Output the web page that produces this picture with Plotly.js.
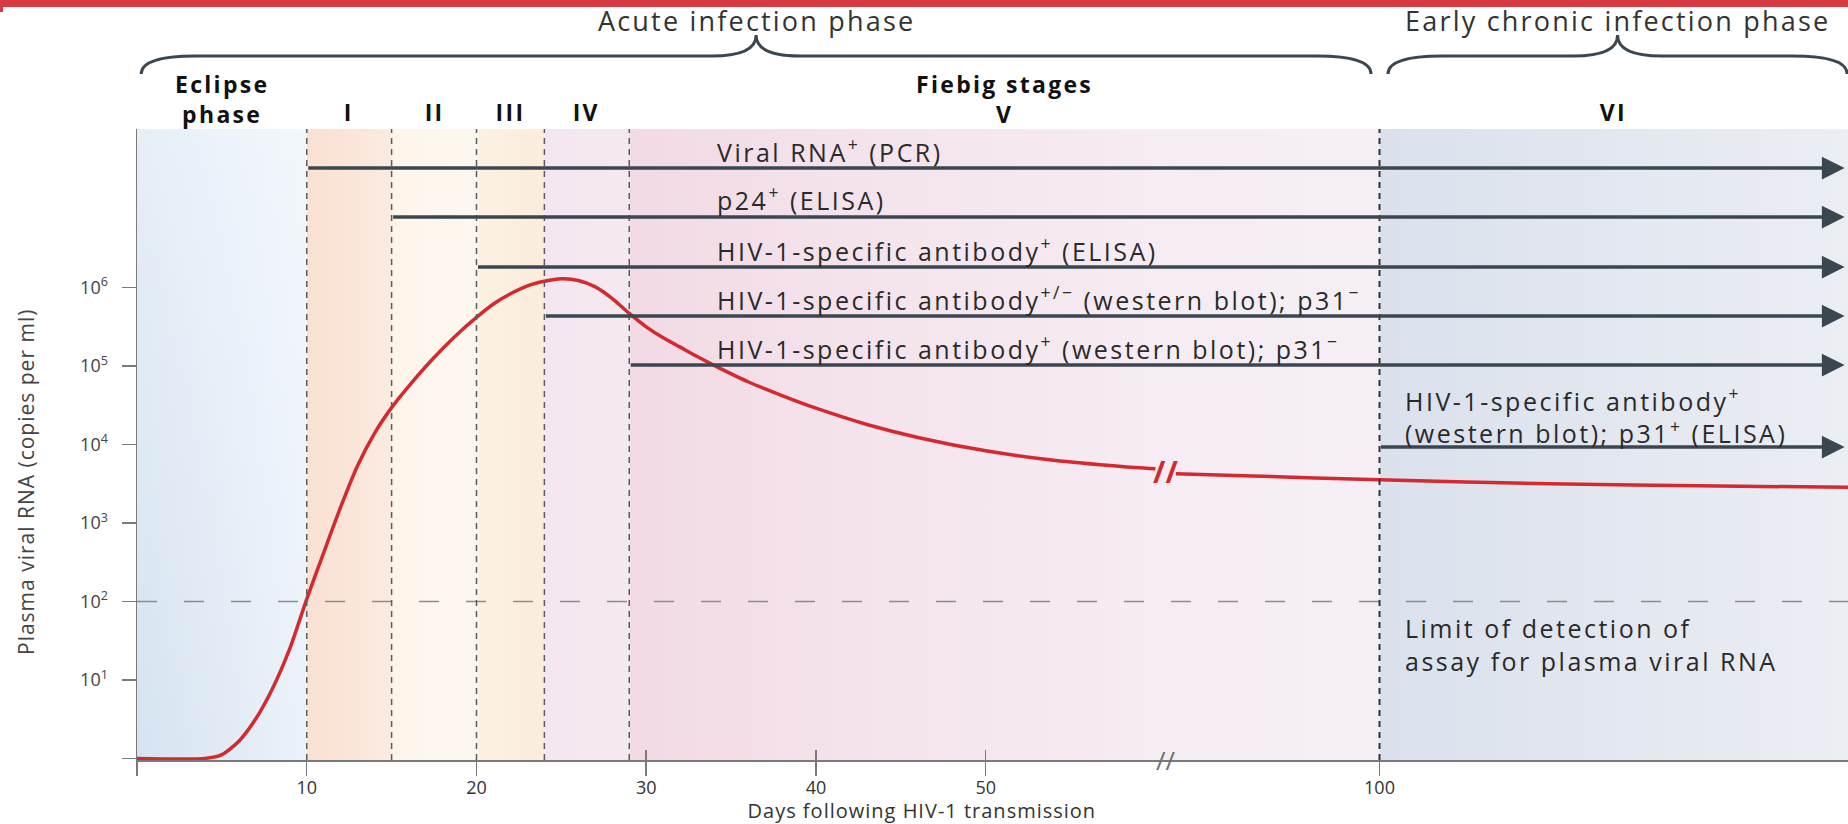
<!DOCTYPE html>
<html>
<head>
<meta charset="utf-8">
<script src="https://cdn.plot.ly/plotly-3.0.1.min.js"></script>
<style>
  html, body { margin: 0; padding: 0; background: #ffffff; }
  #chart { width: 1848px; height: 824px; }
</style>
</head>
<body>
<div id="chart"></div>
<script>
// ---- Viral load course (days after transmission, copies per ml) ----
const earlyDays = [0, 4, 5, 6, 7, 8, 9, 10, 11, 12, 13, 14, 15, 16, 17, 18, 19, 20, 21, 22, 23, 24, 25, 26, 27, 28, 29, 30, 31, 32, 33, 34, 36, 38, 40, 43, 46, 50, 54, 58, 60];
const earlyLoad = [1, 1, 1.12, 1.66, 3.2, 7.9, 25, 107, 420, 1600, 5400, 14000, 29500, 55000, 98000, 166000, 270000, 417000, 617000, 832000, 1050000, 1200000, 1290000, 1230000, 1020000, 724000, 468000, 316000, 229000, 174000, 132000, 102000, 63000, 42000, 29000, 18000, 12300, 8300, 6300, 5250, 4900];
const lateDays = [88, 92, 100, 110, 120, 128];
const lateLoad = [4250, 4000, 3550, 3150, 2950, 2850];

// ---- Fiebig staging (days) ----
const stageNames = ['Eclipse<br>phase', 'I', 'II', 'III', 'IV', 'Fiebig stages<br>V', 'VI'];
const stageStart = [0, 10, 15, 20, 24, 29, 100];
const stageEnd = [10, 15, 20, 24, 29, 100, 128];

// ---- Infection phases (days) ----
const phaseNames = ['Acute infection phase', 'Early chronic infection phase'];
const phaseStart = [0, 100];
const phaseEnd = [100, 128];

// ---- Assays and the day each becomes positive ----
const assayLabels = [
  'Viral RNA<sup>+</sup> (PCR)',
  'p24<sup>+</sup> (ELISA)',
  'HIV-1-specific antibody<sup>+</sup> (ELISA)',
  'HIV-1-specific antibody<sup>+/−</sup> (western blot); p31<sup>−</sup>',
  'HIV-1-specific antibody<sup>+</sup> (western blot); p31<sup>−</sup>',
  'HIV-1-specific antibody<sup>+</sup><br>(western blot); p31<sup>+</sup> (ELISA)'
];
const assayStart = [10, 15, 20, 24, 29, 100];

const detectionLimit = 100;
const detectionText = 'Limit of detection of<br>assay for plasma viral RNA';

// ---- Axis ticks ----
const xTickDays = [0, 10, 20, 30, 40, 50, 100];
const xTickText = ['', '10', '20', '30', '40', '50', '100'];
const xCrossTickDays = [30, 40, 50];
const yTickValues = [1, 10, 100, 1e3, 1e4, 1e5, 1e6];
const yTickText = ['', '10<sup>1</sup>', '10<sup>2</sup>', '10<sup>3</sup>', '10<sup>4</sup>', '10<sup>5</sup>', '10<sup>6</sup>'];

// ---- Broken time axis: the days between the break points are cut out ----
const BREAK_FROM = 60.8, BREAK_TO = 87.6;
const toAxis = d => (d > BREAK_FROM ? d - (BREAK_TO - BREAK_FROM) : d);
const X_MAX = toAxis(127.6);
const Y_RANGE = [-0.02, 8.02];

// ---- Page geometry ----
const W = 1848, H = 824;
const M = { l: 137, r: 0, t: 129, b: 64 };
const PW = W - M.l - M.r, PH = H - M.t - M.b;
const paperX = px => (px - M.l) / PW;
const paperY = py => (H - M.b - py) / PH;

// ---- Styles ----
const FONT = '"Open Sans", "DejaVu Sans", sans-serif';
const INK = '#2a2a2a';
const ARROW = '#3b4750';
const CURVE = '#d42a2f';
const bandColors = [
  [[0, '#d5e3f1'], [0.6, '#e2ecf6'], [1, '#ebf2f9']],
  [[0, '#f9e1d3'], [0.5, '#fae5d8'], [1, '#fbebe0']],
  [[0, '#fdf5ea'], [1, '#fdf8f0']],
  [[0, '#fcf1e2'], [1, '#fbecdb']],
  [[0, '#f3e6f0'], [1, '#f4e9f1']],
  [[0, '#f2dae5'], [0.3, '#f4e3ec'], [0.7, '#f6ecf3'], [1, '#f5eff5']],
  [[0, '#dae1ed'], [0.5, '#e3e7ef'], [1, '#ebeef3']]
];
const eclipseHaze = [[0, 'rgba(255,255,255,0)'], [1, 'rgba(255,255,255,0.4)']];
const assayRowY = [168, 217, 267, 316, 365, 447];   // arrow rows, page pixels
const assayTextX = [715, 715, 715, 715, 715, 1403]; // label left edges, page pixels

const traces = [];
const yTop = Math.pow(10, Y_RANGE[1]);

// Stage background bands
stageStart.forEach((s, i) => {
  const x0 = toAxis(s), x1 = toAxis(stageEnd[i]);
  traces.push({
    type: 'scatter', mode: 'none', fill: 'toself',
    x: [x0, x1, x1, x0, x0],
    y: [0.5, 0.5, yTop, yTop, 0.5],
    fillgradient: { type: 'horizontal', colorscale: bandColors[i], start: x0, stop: x1 },
    hoverinfo: 'skip', showlegend: false
  });
});
// Lighter top half of the eclipse band
traces.push({
  type: 'scatter', mode: 'none', fill: 'toself',
  x: [toAxis(stageStart[0]), toAxis(stageEnd[0]), toAxis(stageEnd[0]), toAxis(stageStart[0]), toAxis(stageStart[0])],
  y: [1, 1, yTop, yTop, 1],
  fillgradient: { type: 'vertical', colorscale: eclipseHaze },
  hoverinfo: 'skip', showlegend: false
});

// Detection limit
traces.push({
  type: 'scatter', mode: 'lines',
  x: [0, X_MAX], y: [detectionLimit, detectionLimit],
  line: { color: '#8c8c8c', width: 1.5, dash: '20px,27px' },
  hoverinfo: 'skip', showlegend: false
});

// Viral load curve, either side of the axis break
[[earlyDays, earlyLoad], [lateDays, lateLoad]].forEach(([d, v]) => {
  traces.push({
    type: 'scatter', mode: 'lines',
    x: d.map(toAxis), y: v,
    line: { color: CURVE, width: 3.5, shape: 'spline', smoothing: 0.7 },
    hoverinfo: 'skip', showlegend: false
  });
});

const shapes = [];
const annotations = [];
const tracking = [];   // letter spacing (px) for each annotation
const note = (spec, ls) => { annotations.push(spec); tracking.push(ls || 0); };

// Red banner across the top of the page
shapes.push({ type: 'rect', xref: 'paper', yref: 'paper', x0: paperX(0), x1: paperX(W), y0: paperY(7), y1: paperY(0), fillcolor: '#d73a42', line: { width: 0 } });
shapes.push({ type: 'rect', xref: 'paper', yref: 'paper', x0: paperX(0), x1: paperX(3), y0: paperY(12), y1: paperY(7), fillcolor: '#d73a42', line: { width: 0 } });

// Stage boundaries
stageStart.slice(1).forEach(d => {
  const major = d === 100;
  shapes.push({
    type: 'line', xref: 'x', yref: 'paper',
    x0: toAxis(d), x1: toAxis(d), y0: 0, y1: 1,
    line: { color: major ? '#333333' : '#5c5c5c', width: major ? 2 : 1.5, dash: '6px,5px' }
  });
});

// Phase braces and titles
const yEnd = paperY(74), yMid = paperY(56), yPeak = paperY(35);
phaseNames.forEach((name, i) => {
  const a = toAxis(phaseStart[i]) + (i === 0 ? 0.25 : 0.5);
  const b = Math.min(toAxis(phaseEnd[i]), X_MAX) - (i === 0 ? 0.5 : 0.05);
  const m = (a + b) / 2, e = 3.2, p = 2.6;
  const path = `M ${a},${yEnd} Q ${a},${yMid} ${a + e},${yMid} L ${m - p},${yMid} ` +
    `Q ${m},${yMid} ${m},${yPeak} Q ${m},${yMid} ${m + p},${yMid} ` +
    `L ${b - e},${yMid} Q ${b},${yMid} ${b},${yEnd}`;
  shapes.push({ type: 'path', xref: 'x', yref: 'paper', path, line: { color: ARROW, width: 3 } });
  note({
    xref: 'x', yref: 'paper', x: m, y: paperY(21), text: name, showarrow: false,
    xanchor: 'center', yanchor: 'middle', font: { family: FONT, size: 27, color: '#333333' }
  }, 2.2);
});

// Stage labels (two-line labels share the same bottom line)
stageNames.forEach((name, i) => {
  const c = (toAxis(stageStart[i]) + Math.min(toAxis(stageEnd[i]), X_MAX)) / 2;
  const twoLine = name.includes('<br>');
  note({
    xref: 'x', yref: 'paper', x: c, y: paperY(twoLine ? 99 : 112),
    text: '<b>' + name + '</b>', showarrow: false, xanchor: 'center', yanchor: 'middle', align: 'center',
    font: { family: FONT, size: 23, color: '#111111' }
  }, 2.3);
});

// Assay arrows and labels
assayLabels.forEach((label, i) => {
  note({
    xref: 'x', yref: 'paper', x: toAxis(127.4), y: paperY(assayRowY[i]),
    axref: 'x', ayref: 'pixel', ax: toAxis(assayStart[i]), ay: 0,
    text: '', showarrow: true, arrowhead: 2, arrowsize: 1.3, arrowwidth: 3.5, arrowcolor: ARROW,
    standoff: 0, startstandoff: 0
  });
  const nLines = label.split('<br>').length;
  note({
    xref: 'paper', yref: 'paper', x: paperX(assayTextX[i]),
    y: paperY(assayRowY[i] - 18 - 14 * (nLines - 1)),
    text: label, showarrow: false, xanchor: 'left', yanchor: 'middle', align: 'left',
    font: { family: FONT, size: 25, color: INK }
  }, 2.5);
});

// Detection limit note
note({
  xref: 'paper', yref: 'paper', x: paperX(1403), y: paperY(644), text: detectionText,
  showarrow: false, xanchor: 'left', yanchor: 'middle', align: 'left',
  font: { family: FONT, size: 25, color: INK }
}, 2.5);

// Break marks on the curve and on the time axis
const breakX = (toAxis(earlyDays[earlyDays.length - 1]) + toAxis(lateDays[0])) / 2;
const breakY = (Math.log10(earlyLoad[earlyLoad.length - 1]) + Math.log10(lateLoad[0])) / 2;
note({
  xref: 'x', yref: 'y', x: breakX, y: breakY, text: '<b>//</b>', showarrow: false,
  font: { family: FONT, size: 30, color: CURVE }
});
note({
  xref: 'x', yref: 'paper', x: breakX, y: 0, yanchor: 'middle', text: '//', showarrow: false,
  font: { family: FONT, size: 26, color: '#707070' }
});

// Axis titles
note({
  xref: 'paper', yref: 'paper', x: paperX(26), y: paperY(482), xanchor: 'center', yanchor: 'middle',
  textangle: -90, text: 'Plasma viral RNA (copies per ml)', showarrow: false,
  font: { family: FONT, size: 21, color: '#444444' }
}, 1);
note({
  xref: 'paper', yref: 'paper', x: paperX(922), y: paperY(810), xanchor: 'center', yanchor: 'middle',
  text: 'Days following HIV-1 transmission', showarrow: false,
  font: { family: FONT, size: 20, color: '#333333' }
}, 1);

const layout = {
  width: W, height: H, margin: M,
  paper_bgcolor: '#ffffff', plot_bgcolor: '#ffffff',
  showlegend: false,
  font: { family: FONT, color: INK },
  xaxis: {
    range: [0, X_MAX], showgrid: false, zeroline: false,
    showline: true, linecolor: '#7a7a7a', linewidth: 1.5,
    ticks: 'outside', ticklen: 14, tickwidth: 1.5, tickcolor: '#7a7a7a',
    tickvals: xTickDays.map(toAxis), ticktext: xTickText, ticklabelstandoff: -3,
    tickfont: { family: FONT, size: 18, color: '#333333' },
    minor: { tickvals: xCrossTickDays.map(toAxis), ticks: 'inside', ticklen: 10, tickwidth: 1.5, tickcolor: '#7a7a7a' }
  },
  yaxis: {
    type: 'log', range: Y_RANGE, showgrid: false, zeroline: false,
    showline: true, linecolor: '#7a7a7a', linewidth: 1.5,
    ticks: 'outside', ticklen: 14, tickwidth: 1.5, tickcolor: '#7a7a7a',
    tickvals: yTickValues, ticktext: yTickText, ticklabelstandoff: 10,
    tickfont: { family: FONT, size: 18, color: '#444444' }
  },
  shapes, annotations
};

Plotly.newPlot('chart', traces, layout, { displayModeBar: false, staticPlot: true }).then(gd => {
  // Wide tracking on the annotation texts
  gd.querySelectorAll('g.annotation').forEach(g => {
    const ls = tracking[+g.getAttribute('data-index')];
    if (ls) g.querySelectorAll('text').forEach(t => { t.style.letterSpacing = ls + 'px'; });
  });
});
</script>
</body>
</html>
